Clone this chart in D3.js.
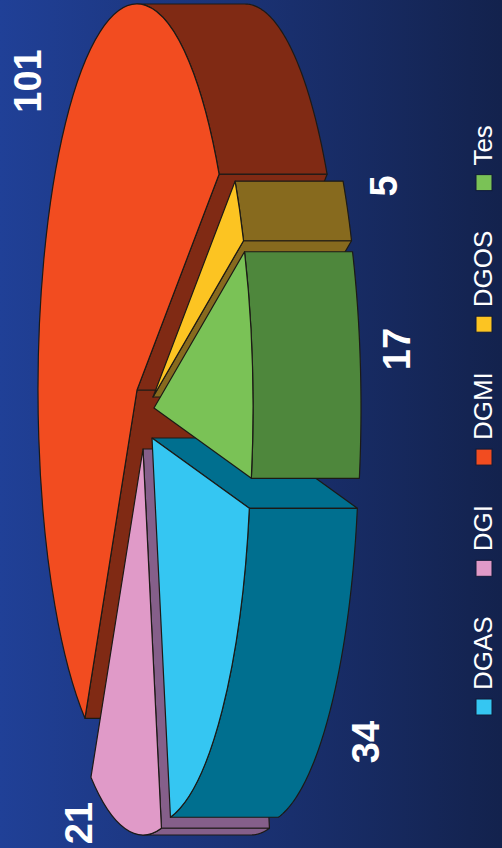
<!DOCTYPE html>
<html>
<head>
<meta charset="utf-8">
<script src="https://cdn.jsdelivr.net/npm/d3@7"></script>
<style>
  html, body { margin: 0; padding: 0; background: #14234f; }
  svg { display: block; }
  text { font-family: "Liberation Sans", Arial, sans-serif; fill: #fff; }
</style>
</head>
<body>
<div id="chart"></div>
<script>
// 1: DATA
const categories = ["DGAS", "DGI", "DGMI", "DGOS", "Tes"];
const counts = [34, 21, 101, 5, 17];
const topColors = ["#35c6f2", "#e09ac8", "#f24c20", "#fcc422", "#7ac256"];
const wallColors = ["#006f8f", "#855f8a", "#802a14", "#876a1e", "#4e873c"];

// 2: LAYOUT
const width = 502, height = 848;
const rx = 99, ry = 386, depth = 108; // squashed pie radii and extrusion to the right
const arcRadius = 100;
const firstAngle = 100.5 * Math.PI / 180;

// exploded centre of each slice and where its number sits
const centers = [[152, 438], [143, 449], [137, 390], [153, 397], [154, 408]];
const labelPos = [[366, 742], [79, 823], [28, 81], [384, 186], [397, 349]];
const drawOrder = [2, 1, 0, 3, 4]; // back to front

const svg = d3.select("#chart").append("svg")
    .attr("width", width)
    .attr("height", height);

// background gradient
const grad = svg.append("defs").append("linearGradient")
    .attr("id", "bg")
    .attr("x1", 0).attr("x2", 1).attr("y1", 0).attr("y2", 0);
grad.append("stop").attr("offset", "0%").attr("stop-color", "#204097");
grad.append("stop").attr("offset", "45%").attr("stop-color", "#1b3377");
grad.append("stop").attr("offset", "100%").attr("stop-color", "#13224d");

svg.append("rect")
    .attr("width", width)
    .attr("height", height)
    .attr("fill", "url(#bg)");

// 3: PIE ANGLES
const pie = d3.pie()
    .sort(null)
    .startAngle(firstAngle)
    .endAngle(firstAngle + 2 * Math.PI);
const slices = pie(counts);

const arc = d3.arc().innerRadius(0).outerRadius(arcRadius);
const line = d3.line();
const rim = a => [rx * Math.sin(a), -ry * Math.cos(a)];

// part of [a0, a1] that faces the viewer on the outer wall, i.e. sin(a) > 0
function wallRange(a0, a1) {
    const tau = 2 * Math.PI;
    for (let k = 0; k < 2; k++) {
        const lo = Math.max(a0, k * tau), hi = Math.min(a1, k * tau + Math.PI);
        if (hi > lo) return [lo, hi];
    }
    return null;
}

function wallPath(range) {
    const pts = d3.range(0, 81).map(i => rim(range[0] + (range[1] - range[0]) * i / 80));
    const back = pts.slice().reverse().map(p => [p[0] + depth, p[1]]);
    return line(pts.concat(back)) + "Z";
}

function sidePath(a) {
    const p = rim(a);
    return line([[0, 0], p, [p[0] + depth, p[1]], [depth, 0]]) + "Z";
}

// 4: DRAW SLICES
drawOrder.forEach(i => {
    const s = slices[i];
    const g = svg.append("g")
        .attr("transform", `translate(${centers[i][0]},${centers[i][1]})`)
        .attr("stroke", "#1c1a16")
        .attr("stroke-width", 1.2)
        .attr("stroke-linejoin", "round");

    // cut faces: only the ones turned towards the extrusion side
    if (Math.cos(s.startAngle) < 0) {
        g.append("path").attr("d", sidePath(s.startAngle)).attr("fill", wallColors[i]);
    }
    if (Math.cos(s.endAngle) > 0) {
        g.append("path").attr("d", sidePath(s.endAngle)).attr("fill", wallColors[i]);
    }

    const range = wallRange(s.startAngle, s.endAngle);
    if (range) {
        g.append("path").attr("d", wallPath(range)).attr("fill", wallColors[i]);
    }

    // top face
    g.append("path")
        .attr("d", arc(s))
        .attr("transform", `scale(${rx / arcRadius},${ry / arcRadius})`)
        .attr("vector-effect", "non-scaling-stroke")
        .attr("fill", topColors[i]);
});

// 5: VALUE LABELS
svg.selectAll(".value")
    .data(counts)
    .enter()
    .append("text")
    .attr("class", "value")
    .attr("transform", (d, i) => `translate(${labelPos[i][0]},${labelPos[i][1]}) rotate(-90)`)
    .attr("text-anchor", "middle")
    .attr("dominant-baseline", "central")
    .attr("font-size", 38)
    .attr("font-weight", "bold")
    .text(d => d);

// 6: LEGEND, running upward along the right edge
const legendX = 492, legendBottom = 715, swatch = 16, fontSize = 26;
let cursor = legendBottom;
categories.forEach((name, i) => {
    svg.append("rect")
        .attr("x", legendX - swatch)
        .attr("y", cursor - swatch)
        .attr("width", swatch)
        .attr("height", swatch)
        .attr("fill", topColors[i])
        .attr("stroke", "#101a38")
        .attr("stroke-width", 1);
    const t = svg.append("text")
        .attr("transform", `translate(${legendX},${cursor - swatch - 9}) rotate(-90)`)
        .attr("font-size", fontSize)
        .text(name);
    cursor -= swatch + 9 + t.node().getComputedTextLength() + 40;
});
</script>
</body>
</html>
